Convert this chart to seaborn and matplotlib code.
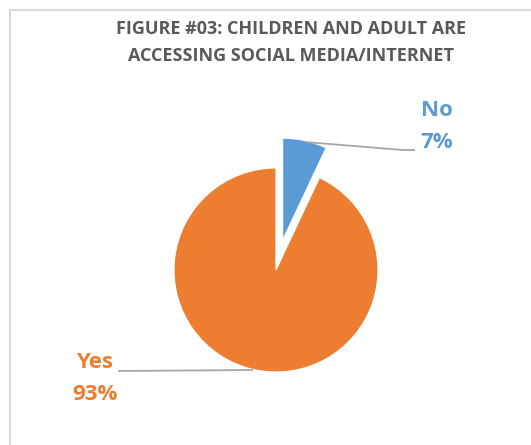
import matplotlib
matplotlib.use("Agg")
import matplotlib.pyplot as plt
from matplotlib.lines import Line2D
import seaborn as sns

categories = ["No", "Yes"]
shares = [7, 93]
title_lines = ["FIGURE #03: CHILDREN AND ADULT ARE", "ACCESSING SOCIAL MEDIA/INTERNET"]

sns.set_theme(style="white")
plt.rcParams["font.family"] = ["Open Sans", "DejaVu Sans"]

slice_colors = ["#5B9BD5", "#ED7D31"]
W, H = 531, 445
CX, CY, R = 276, 270, 102  # pie centre and radius in pixels


def px(x, y):
    """Convert pixel position (from top-left) to data units of the pie axes."""
    return (x - CX) / R, (CY - y) / R


fig = plt.figure(figsize=(W / 100, H / 100), dpi=100)
ax = fig.add_axes([0, 0, 1, 1])
ax.pie(shares, colors=slice_colors, startangle=90, counterclock=False,
       explode=[0.3, 0], radius=1,
       wedgeprops=dict(edgecolor="white", linewidth=0.8))
ax.set_xlim(-CX / R, (W - CX) / R)
ax.set_ylim((CY - H) / R, CY / R)
ax.set_aspect("auto")
ax.axis("off")

# chart-area border (top and left edges visible)
border = "#D9D9D9"
fig.add_artist(Line2D([10 / W, 1], [1 - 10 / H, 1 - 10 / H], color=border, lw=1.5))
fig.add_artist(Line2D([10 / W, 10 / W], [0, 1 - 10 / H], color=border, lw=1.5))

# title
for i, line in enumerate(title_lines):
    tx, ty = px(291, 29 + 27 * i)
    ax.text(tx, ty, line, ha="center", va="center", fontsize=13,
            fontweight="bold", color="#595959")

# leader lines
leader = "#A6A6A6"
for pts in ([(305, 142), (403, 150), (415, 150)],
            [(253, 370), (118, 371)]):
    xs, ys = zip(*[px(*p) for p in pts])
    ax.plot(xs, ys, color=leader, lw=1.3, solid_capstyle="butt")

# data labels
label_pos = {"No": (437, 110, 143), "Yes": (95, 363, 395)}
for cat, val, col in zip(categories, shares, slice_colors):
    x, y1, y2 = label_pos[cat]
    for txt, yy in ((cat, y1), (f"{val}%", y2)):
        lx, ly = px(x, yy)
        ax.text(lx, ly, txt, ha="center", va="center", fontsize=16,
                fontweight="bold", color=col)

fig.savefig("out.png", dpi=100)
